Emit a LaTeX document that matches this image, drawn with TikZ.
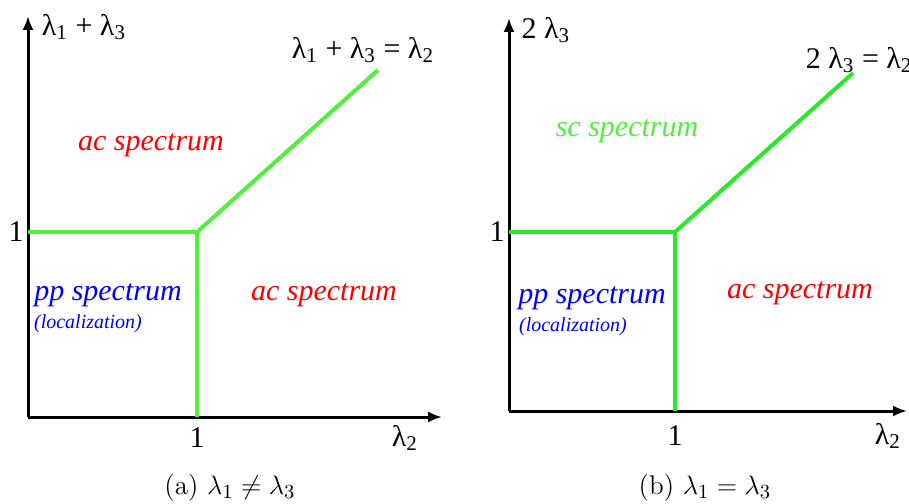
\documentclass[tikz,border=0pt]{standalone}
\usepackage{fontspec}
\usetikzlibrary{arrows.meta}
\newfontfamily\lblfont{Liberation Serif}
\definecolor{phasegreen}{RGB}{80,240,60}
\definecolor{phasegreenb}{RGB}{40,235,40}

\begin{document}
\begin{tikzpicture}[x=0.45pt, y=-0.45pt, >={Latex[length=6.3pt,width=5pt]},
	axis/.style={->, line width=1.35pt},
	phase/.style={line width=1.8pt, phasegreen},
	lab/.style={font=\lblfont\fontsize{13.5}{16}\selectfont},
	spec/.style={font=\lblfont\itshape\fontsize{13.5}{16}\selectfont},
	loc/.style={font=\lblfont\itshape\fontsize{9}{11}\selectfont, blue},
	capt/.style={font=\fontsize{12.2}{14}\selectfont}]
	\useasboundingbox (0,0) rectangle (909,504);
	% (a) lambda_1 /= lambda_3
	\coordinate (Oa) at (28,417);
	\coordinate (Ya) at (28,16);
	\coordinate (Xa) at (442,417);
	\coordinate (Ka) at (197,232);
	\coordinate (La) at (28,232);
	\coordinate (Ba) at (197,417);
	\coordinate (Da) at (378,70);
	\draw[axis] (Oa) -- (Ya);
	\draw[axis] (Oa) -- (Xa);
	\draw[phase] (La) -- (Ka) -- (Ba);
	\draw[phase] (Ka) -- (Da);
	\node[lab] (ya) at (84,27) {λ\textsubscript{1} + λ\textsubscript{3}};
	\node[lab] (lineA) at (363,50) {λ\textsubscript{1} + λ\textsubscript{3} =\ λ\textsubscript{2}};
	\node[lab] (onea) at (16,232) {1};
	\node[lab] (oneax) at (197,438) {1};
	\node[lab] (xa) at (405,438) {λ\textsubscript{2}};
	\node[spec, red] (acA) at (151,145) {ac spectrum};
	\node[spec, blue] (ppA) at (108,295) {pp spectrum};
	\node[loc] (locA) at (88,324) {(localization)};
	\node[spec, red] (acB) at (324,295) {ac spectrum};
	\node[capt] (capA) at (230,488) {(a) $\lambda_1 \neq \lambda_3$};
	% (b) lambda_1 = lambda_3
	\coordinate (Ob) at (509,411);
	\coordinate (Yb) at (509,18);
	\coordinate (Xb) at (907,411);
	\coordinate (Kb) at (675,232);
	\coordinate (Lb) at (509,232);
	\coordinate (Bb) at (675,411);
	\coordinate (Db) at (853,73);
	\draw[axis] (Ob) -- (Yb);
	\draw[axis] (Ob) -- (Xb);
	\draw[phase, phasegreenb] (Lb) -- (Kb) -- (Bb);
	\draw[phase, phasegreenb] (Kb) -- (Db);
	\node[lab] (yb) at (546,30) {2 λ\textsubscript{3}};
	\node[lab, anchor=west] (lineB) at (798,60) {2 λ\textsubscript{3} =\ λ\textsubscript{2}};
	\node[lab] (oneb) at (497,232) {1};
	\node[lab] (onebx) at (675,436) {1};
	\node[lab] (xb) at (888,436) {λ\textsubscript{2}};
	\node[spec, phasegreen] (scB) at (627,131) {sc spectrum};
	\node[spec, blue] (ppB) at (592,298) {pp spectrum};
	\node[loc] (locB) at (573,327) {(localization)};
	\node[spec, red] (acC) at (800,293) {ac spectrum};
	\node[capt] (capB) at (705,488) {(b) $\lambda_1 = \lambda_3$};
\end{tikzpicture}
\end{document}
